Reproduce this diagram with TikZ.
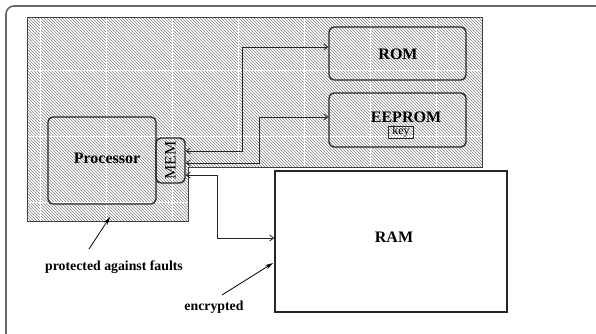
\documentclass[tikz,border=0pt]{standalone}
\usepackage{fontspec}
\setmainfont{Liberation Serif}
\usetikzlibrary{arrows.meta,patterns}
\begin{document}
\begin{tikzpicture}[x=1pt,y=-1pt,
  blk/.style={draw=black!85, line width=1.3pt, rounded corners=5pt, inner sep=0pt},
  lbl/.style={font=\fontsize{16}{19}\selectfont\bfseries},
  conn/.style={draw=black!85, line width=0.8pt, {Straight Barb[length=4pt,width=6pt]}-{Straight Barb[length=4pt,width=6pt]}},
  note/.style={font=\fontsize{13.8}{16}\selectfont\bfseries},
  pointer/.style={draw=black, line width=0.8pt, -{Stealth[length=8pt,width=4.5pt]}},
  tip/.style={font=\fontsize{12}{14}\selectfont, draw=black!85, line width=0.6pt, inner xsep=4pt, inner ysep=0.5pt}
]
\useasboundingbox (0,0) rectangle (596,334);
\clip (0,0) rectangle (596,334);
% outer frame
\draw[gray!80!black, line width=1.6pt, rounded corners=8pt] (6,6) rectangle (650,380);
% protected region
\fill[white] (27,18) -- (482,18) -- (482,167) -- (188,167) -- (188,221) -- (27,221) -- cycle;
\fill[pattern=north west lines, pattern color=black!50] (27,18) -- (482,18) -- (482,167) -- (188,167) -- (188,221) -- (27,221) -- cycle;
\begin{scope}
  \clip (27,18) -- (482,18) -- (482,167) -- (188,167) -- (188,221) -- (27,221) -- cycle;
  \foreach \gx in {40,106,172,238,304,370,436} \draw[white, line width=0.9pt] (\gx,0) -- (\gx,240);
  \foreach \gy in {70,136,202} \draw[white, line width=0.9pt] (0,\gy) -- (500,\gy);
\end{scope}
\draw[black!75, line width=1pt] (27,18) -- (482,18) -- (482,167) -- (188,167) -- (188,221) -- (27,221) -- cycle;
% blocks
\node[blk, minimum width=137pt, minimum height=53pt] (rom) at (397.5,53.5) {};
\node[lbl] (romlabel) at (398,54) {ROM};
\node[blk, minimum width=137pt, minimum height=54pt] (eeprom) at (397.5,120) {};
\node[lbl] (eepromlabel) at (406,117) {EEPROM};
\node[tip] (key) at (401,132) {key};
\node[blk, minimum width=108pt, minimum height=87pt] (proc) at (102,160.5) {};
\node[lbl] (proclabel) at (107,158) {Processor};
\node[blk, minimum width=29pt, minimum height=45pt] (mem) at (170.5,160.5) {};
\node[font=\fontsize{16}{19}\selectfont, rotate=90] (memlabel) at (mem) {MEM};
\node[draw=black!85, line width=1.5pt, fill=white, minimum width=232pt, minimum height=141pt] (ram) at (391,241.5) {};
\node[lbl] (ramlabel) at (394,237) {RAM};
% connectors
\coordinate (r1) at (242,47);
\coordinate (e1) at (259,117);
\coordinate (a1) at (217,238);
\draw[conn] (mem.east |- 0,151) -| (r1) -- (rom.west |- r1);
\draw[conn] (mem.east |- 0,163) -| (e1) -- (eeprom.west |- e1);
\draw[conn] (mem.east |- 0,175) -| (a1) -- (ram.west |- a1);
% notes
\node[note] (prot) at (114,267) {protected against faults};
\node[note] (enc) at (214,307) {encrypted};
\coordinate (pt1) at (110,217);
\coordinate (pt2) at (273,263);
\draw[pointer] (89,249) -- (pt1);
\draw[pointer] (222,295) -- (pt2);
\end{tikzpicture}
\end{document}
